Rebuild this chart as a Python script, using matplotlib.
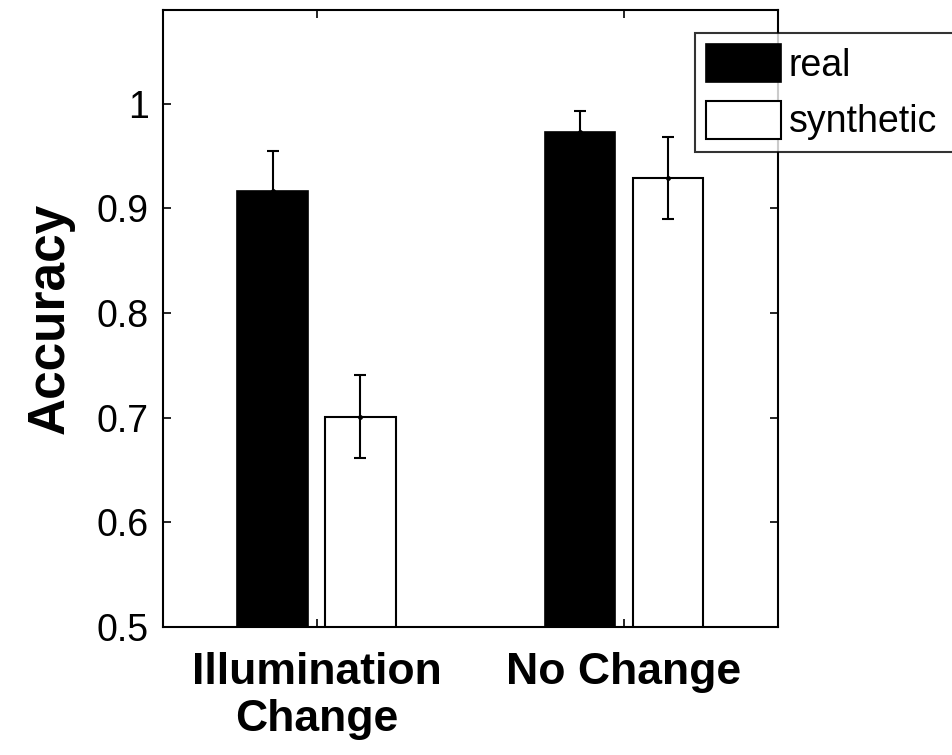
import matplotlib
matplotlib.use("Agg")
import matplotlib.pyplot as plt
import numpy as np

plt.rcParams["font.family"] = ["Liberation Sans", "DejaVu Sans"]

categories = ["Illumination\nChange", "No Change"]
series_names = ["real", "synthetic"]
real_acc = [0.917, 0.973]
real_err = [0.038, 0.020]
synth_acc = [0.701, 0.929]
synth_err = [0.040, 0.039]

fig = plt.figure(figsize=(9.52, 7.55), dpi=100)
ax = fig.add_axes([0.171, 0.170, 0.646, 0.817])

x = np.arange(1, len(categories) + 1)
offset = 0.1429
width = 0.2286

ax.bar(x - offset, real_acc, width, color="black", edgecolor="black",
       linewidth=1.2, label=series_names[0], zorder=2)
ax.bar(x + offset, synth_acc, width, color="white", edgecolor="black",
       linewidth=1.5, label=series_names[1], zorder=2)
ax.errorbar(x - offset, real_acc, yerr=real_err, fmt=".", color="black",
            markersize=5, elinewidth=1.5, capsize=4, capthick=1.5, zorder=3)
ax.errorbar(x + offset, synth_acc, yerr=synth_err, fmt=".", color="black",
            markersize=5, elinewidth=1.5, capsize=4, capthick=1.5, zorder=3)

ax.set_xlim(0.5, 2.5)
ax.set_ylim(0.5, 1.09)
ax.set_xticks(x)
ax.set_xticklabels(categories, fontsize=32, fontweight="bold", linespacing=1.2)
ax.set_yticks([0.5, 0.6, 0.7, 0.8, 0.9, 1.0])
ax.set_yticklabels(["0.5", "0.6", "0.7", "0.8", "0.9", "1"], fontsize=27)
ax.tick_params(direction="in", top=True, right=True, length=6, width=1.2)
ax.tick_params(axis="x", pad=18)
ax.tick_params(axis="y", pad=10)
for sp in ax.spines.values():
    sp.set_linewidth(1.5)

ax.set_ylabel("Accuracy", fontsize=37, fontweight="bold", labelpad=16)

# legend box runs off the right edge of the figure, as in the original
leg = fig.legend(loc="upper left", bbox_to_anchor=(0.730, 0.796, 0.30, 0.16),
                 mode="expand", fontsize=27, frameon=True, fancybox=False,
                 edgecolor="black", handlelength=2.0, handleheight=1.17,
                 handletextpad=0.2, labelspacing=0.45, borderpad=0.3,
                 borderaxespad=0)
leg.get_frame().set_linewidth(1.5)

fig.savefig("out.png", dpi=100, facecolor="white")
